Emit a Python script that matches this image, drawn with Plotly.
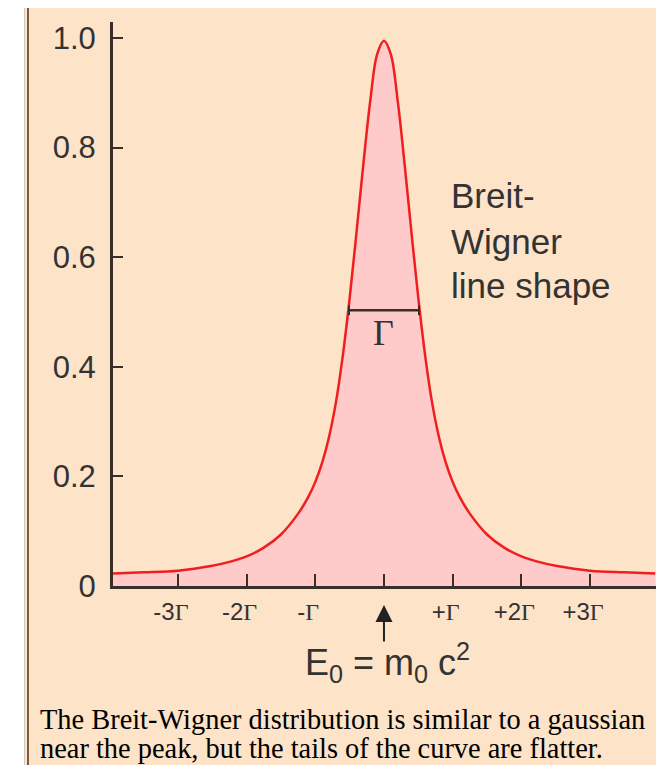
import plotly.graph_objects as go

# energy measured from E0 in units of the width Gamma, and the read-off line shape
energy = [-3.946, -3.5, -3.0, -2.5, -2.25, -2.0, -1.75, -1.5, -1.25, -1.1, -1.0, -0.9, -0.8,
          -0.7, -0.6, -0.5, -0.4, -0.3, -0.2, -0.1, 0.0, 0.1, 0.2, 0.3, 0.4, 0.5, 0.6, 0.7,
          0.8, 0.9, 1.0, 1.1, 1.25, 1.5, 1.75, 2.0, 2.25, 2.5, 3.0, 3.5, 3.95]
intensity = [0.023, 0.025, 0.028, 0.037, 0.044, 0.054, 0.070, 0.094, 0.132, 0.163, 0.190, 0.225, 0.272,
             0.335, 0.420, 0.525, 0.645, 0.770, 0.885, 0.970, 0.995, 0.970, 0.885, 0.770, 0.645, 0.525, 0.420, 0.335,
             0.272, 0.225, 0.190, 0.163, 0.132, 0.094, 0.070, 0.054, 0.044, 0.037, 0.028, 0.025, 0.023]

x_tickvals = [-3, -2, -1, 0, 1, 2, 3]
x_ticktext = ['-3', '-2', '-', '', '+', '+2', '+3']
y_tickvals = [0, 0.2, 0.4, 0.6, 0.8, 1.0]
y_ticktext = ['0', '0.2', '0.4', '0.6', '0.8', '1.0']

# full width at half maximum marker
fwhm_left, fwhm_right, fwhm_level = -0.51, 0.51, 0.503
peak_energy = 0.0

PEACH = '#FDE3C8'
PINK = '#FFCACA'
RED = '#F01E1E'
AXIS = '#3a2e28'
TEXT = '#333333'
SANS = 'Arial, Liberation Sans, sans-serif'
SERIF = 'Times New Roman, Liberation Serif, serif'

# the page puts the figure 8px in from the corner; positions below are page pixels
OFF = 8
W, H = 664 - OFF, 765 - OFF
L, R, T, B = 113, 663, 22, 586


def px_x(px):
    return (px - L) / (R - L)


def px_y(py):
    return (B - py) / (B - T)


def gamma_label(txt):
    return txt + '<span style="font-family:Liberation Serif, Times New Roman, serif">Γ</span>' if txt else ''


fig = go.Figure()
fig.add_trace(go.Scatter(
    x=energy, y=intensity, mode='lines',
    line=dict(color=RED, width=2.5, shape='spline', smoothing=1.0),
    fill='tozeroy', fillcolor=PINK, hoverinfo='skip'))

fig.update_layout(
    width=W, height=H,
    margin=dict(l=L - OFF, r=OFF + W - R, t=T - OFF, b=OFF + H - B, pad=0),
    paper_bgcolor=PEACH, plot_bgcolor=PEACH,
    showlegend=False,
    xaxis=dict(range=[-3.946, 4.063], showline=True, linecolor=AXIS, linewidth=3,
               ticks='inside', ticklen=12, tickwidth=2, tickcolor=AXIS,
               tickvals=x_tickvals, ticktext=[gamma_label(t) for t in x_ticktext],
               tickfont=dict(family=SANS, size=24, color=TEXT),
               ticklabelshift=-7, ticklabelstandoff=2,
               showgrid=False, zeroline=False),
    yaxis=dict(range=[0, 1.029], showline=True, linecolor=AXIS, linewidth=3,
               ticks='inside', ticklen=10, tickwidth=2, tickcolor=AXIS,
               tickvals=y_tickvals, ticktext=y_ticktext,
               tickfont=dict(family=SANS, size=31, color=TEXT),
               ticklabelstandoff=8,
               showgrid=False, zeroline=False),
)

# page edge: white strip and border on the left
fig.add_shape(type='rect', xref='paper', yref='paper', x0=px_x(OFF - 1), x1=px_x(25),
              y0=px_y(766), y1=px_y(OFF - 1), fillcolor='white', line_width=0, layer='above')
fig.add_shape(type='line', xref='paper', yref='paper', x0=px_x(24.5), x1=px_x(24.5),
              y0=px_y(766), y1=px_y(OFF), line=dict(color='#d2c8be', width=1), layer='above')
fig.add_shape(type='line', xref='paper', yref='paper', x0=px_x(28), x1=px_x(28),
              y0=px_y(766), y1=px_y(OFF), line=dict(color='#7a5c46', width=2), layer='above')

# FWHM bar with end caps
cap = 0.009
fig.add_shape(type='line', x0=fwhm_left, x1=fwhm_right, y0=fwhm_level, y1=fwhm_level,
              line=dict(color=AXIS, width=2.5))
for xe in (fwhm_left, fwhm_right):
    fig.add_shape(type='line', x0=xe, x1=xe, y0=fwhm_level - cap, y1=fwhm_level + cap,
                  line=dict(color=AXIS, width=2))
fig.add_annotation(x=peak_energy, y=px_y(333), xref='x', yref='paper', text='Γ',
                   yanchor='middle', showarrow=False, font=dict(family=SERIF, size=36, color=TEXT))

# label on the right
for txt, yc in [('Breit-', 196), ('Wigner', 241), ('line shape', 285)]:
    fig.add_annotation(x=px_x(449), y=px_y(yc), xref='paper', yref='paper', text=txt,
                       xanchor='left', yanchor='middle', showarrow=False,
                       font=dict(family=SANS, size=35, color=TEXT))

# arrow to E0 and its label
fig.add_annotation(x=peak_energy, y=px_y(605), xref='x', yref='paper', text='',
                   showarrow=True, arrowhead=2, arrowsize=1.7, arrowwidth=2,
                   arrowcolor='#222222', ax=0, ay=38)
fig.add_annotation(x=px_x(387), y=px_y(662), xref='paper', yref='paper',
                   text='E<sub>0</sub> = m<sub>0</sub> c<sup>2</sup>', showarrow=False,
                   xanchor='center', yanchor='middle',
                   font=dict(family=SANS, size=36, color=TEXT))

# caption under the figure
for txt, yc in [('The Breit-Wigner distribution is similar to a gaussian', 719),
                ('near the peak, but the tails of the curve are flatter.', 748)]:
    fig.add_annotation(x=px_x(38), y=px_y(yc), xref='paper', yref='paper', text=txt,
                       xanchor='left', yanchor='middle', showarrow=False,
                       font=dict(family=SERIF, size=28.4, color='black'))

fig.write_html("out.html")
